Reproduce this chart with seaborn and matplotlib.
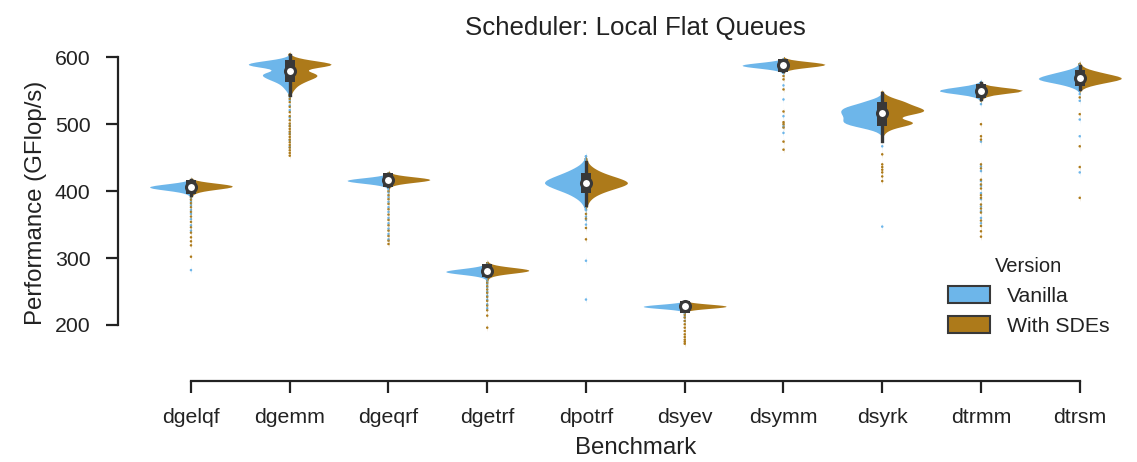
import numpy as np
import pandas as pd
import matplotlib
matplotlib.use("Agg")
import matplotlib.pyplot as plt
from matplotlib.patches import Patch
from matplotlib import cbook
import seaborn as sns

# ---------------- data ----------------
benchmarks = ["dgelqf", "dgemm", "dgeqrf", "dgetrf", "dpotrf",
              "dsyev", "dsymm", "dsyrk", "dtrmm", "dtrsm"]
versions = ["Vanilla", "With SDEs"]
title_text = "Scheduler: Local Flat Queues"
y_ticks = [200, 300, 400, 500, 600]

# body of each distribution: GFlop/s levels and how many runs sit at each level
# plus the individual low outlier runs (the dots under each violin)
dgelqf_v_lv = [394, 397, 400, 403, 406, 409, 412, 415]
dgelqf_v_ct = [4, 10, 30, 70, 100, 75, 30, 6]
dgelqf_v_out = [388, 384, 379, 372, 366, 358, 349, 341, 282]
dgelqf_s_lv = [395, 398, 401, 404, 407, 410, 413, 416]
dgelqf_s_ct = [4, 10, 28, 68, 100, 80, 32, 6]
dgelqf_s_out = [391, 387, 382, 376, 369, 362, 354, 346, 338, 331, 325, 319, 302]

dgemm_v_lv = [544, 547, 550, 553, 556, 559, 562, 565, 568, 571, 574, 577, 580, 583, 586, 589, 592, 595, 598, 601]
dgemm_v_ct = [3, 5, 9, 13, 17, 22, 30, 42, 55, 64, 72, 62, 38, 36, 85, 115, 100, 60, 22, 6]
dgemm_v_out = [541, 536, 528, 521, 510, 498, 487, 476, 466]
dgemm_s_lv = [544, 547, 550, 553, 556, 559, 562, 565, 568, 571, 574, 577, 580, 583, 586, 589, 592, 595, 598, 601, 604]
dgemm_s_ct = [3, 5, 8, 12, 16, 22, 32, 42, 55, 68, 70, 58, 38, 38, 85, 115, 100, 58, 28, 8, 2]
dgemm_s_out = [542, 538, 533, 526, 518, 512, 506, 501, 497, 493, 489, 485, 481,
               477, 473, 469, 465, 461, 457, 453]

dgeqrf_v_lv = [407, 410, 413, 416, 419, 422, 425]
dgeqrf_v_ct = [5, 20, 65, 100, 60, 15, 3]
dgeqrf_v_out = [403, 398, 391, 384, 376, 369, 360, 352, 344, 336, 328]
dgeqrf_s_lv = [408, 411, 414, 417, 420, 423, 426]
dgeqrf_s_ct = [5, 18, 60, 100, 70, 20, 4]
dgeqrf_s_out = [405, 400, 394, 388, 381, 373, 365, 357, 349, 341, 333, 326, 321]

dgetrf_v_lv = [270, 273, 276, 279, 282, 285, 288, 291]
dgetrf_v_ct = [5, 15, 50, 100, 80, 35, 10, 3]
dgetrf_v_out = [265, 261, 256, 250, 244, 238, 231, 225]
dgetrf_s_lv = [271, 274, 277, 280, 283, 286, 289, 292]
dgetrf_s_ct = [4, 12, 45, 95, 100, 50, 15, 4]
dgetrf_s_out = [267, 263, 258, 253, 248, 242, 236, 229, 222, 214, 196]

dpotrf_v_lv = [372, 376, 380, 384, 388, 392, 396, 400, 404, 408, 412,
               416, 420, 424, 428, 432, 436, 440, 444, 448, 452]
dpotrf_v_ct = [3, 5, 8, 13, 20, 30, 42, 58, 75, 90, 100,
               95, 82, 66, 50, 36, 24, 14, 8, 4, 2]
dpotrf_v_out = [362, 357, 350, 296, 238]
dpotrf_s_lv = [376, 380, 384, 388, 392, 396, 400, 404, 408, 412,
               416, 420, 424, 428, 432, 436, 440, 444, 448]
dpotrf_s_ct = [2, 4, 7, 12, 20, 32, 48, 68, 88, 100,
               92, 75, 55, 38, 25, 15, 8, 4, 2]
dpotrf_s_out = [366, 359, 345, 328]

dsyev_v_lv = [224, 226, 228, 230, 232]
dsyev_v_ct = [10, 60, 100, 40, 5]
dsyev_v_out = [221, 217, 212, 206]
dsyev_s_lv = [224, 226, 228, 230, 232]
dsyev_s_ct = [8, 55, 100, 50, 8]
dsyev_s_out = [222, 219, 215, 211, 206, 201, 196, 191, 186, 182, 178, 175, 172]

dsymm_v_lv = [580, 583, 586, 589, 592, 595]
dsymm_v_ct = [8, 30, 85, 100, 45, 8]
dsymm_v_out = [577, 558, 537, 512, 497, 487]
dsymm_s_lv = [581, 584, 587, 590, 593, 596]
dsymm_s_ct = [6, 28, 80, 100, 55, 10]
dsymm_s_out = [572, 567, 552, 519, 503, 500, 495, 474, 462]

dsyrk_v_lv = [484, 487, 490, 493, 496, 499, 502, 505, 508, 511, 514,
              517, 520, 523, 526, 529, 532, 535, 538, 541, 544]
dsyrk_v_ct = [3, 8, 18, 35, 58, 80, 92, 95, 92, 92, 95,
              98, 100, 96, 88, 70, 52, 40, 22, 10, 4]
dsyrk_v_out = [480, 467, 347]
dsyrk_s_lv = [484, 487, 490, 493, 496, 499, 502, 505, 508, 511, 514,
              517, 520, 523, 526, 529, 532, 535, 538, 541, 544, 547]
dsyrk_s_ct = [3, 6, 12, 22, 38, 62, 76, 66, 40, 38, 58,
              85, 100, 92, 80, 66, 56, 48, 30, 18, 8, 3]
dsyrk_s_out = [483, 475, 455, 440, 436, 432, 428, 422, 415]

dtrmm_v_lv = [538, 541, 544, 547, 550, 553, 556, 559, 562]
dtrmm_v_ct = [5, 12, 30, 75, 100, 80, 45, 15, 4]
dtrmm_v_out = [530, 474, 437, 430, 415, 408, 397, 388, 377, 370, 360, 352]
dtrmm_s_lv = [539, 542, 545, 548, 551, 554, 557, 560]
dtrmm_s_ct = [4, 10, 28, 80, 100, 60, 15, 3]
dtrmm_s_out = [535, 500, 482, 477, 440, 434, 417, 410, 404, 394, 390, 380,
               374, 368, 356, 348, 340, 332]

dtrsm_v_lv = [550, 553, 556, 559, 562, 565, 568, 571, 574, 577, 580, 583, 586, 589]
dtrsm_v_ct = [4, 10, 22, 38, 60, 88, 100, 90, 72, 55, 35, 18, 8, 3]
dtrsm_v_out = [545, 535, 507, 482, 428]
dtrsm_s_lv = [551, 554, 557, 560, 563, 566, 569, 572, 575, 578, 581, 584, 587, 590]
dtrsm_s_ct = [3, 8, 20, 40, 62, 88, 100, 85, 62, 45, 25, 12, 5, 2]
dtrsm_s_out = [540, 515, 467, 436, 390]

groups = {
    ("dgelqf", "Vanilla"): (dgelqf_v_lv, dgelqf_v_ct, dgelqf_v_out),
    ("dgelqf", "With SDEs"): (dgelqf_s_lv, dgelqf_s_ct, dgelqf_s_out),
    ("dgemm", "Vanilla"): (dgemm_v_lv, dgemm_v_ct, dgemm_v_out),
    ("dgemm", "With SDEs"): (dgemm_s_lv, dgemm_s_ct, dgemm_s_out),
    ("dgeqrf", "Vanilla"): (dgeqrf_v_lv, dgeqrf_v_ct, dgeqrf_v_out),
    ("dgeqrf", "With SDEs"): (dgeqrf_s_lv, dgeqrf_s_ct, dgeqrf_s_out),
    ("dgetrf", "Vanilla"): (dgetrf_v_lv, dgetrf_v_ct, dgetrf_v_out),
    ("dgetrf", "With SDEs"): (dgetrf_s_lv, dgetrf_s_ct, dgetrf_s_out),
    ("dpotrf", "Vanilla"): (dpotrf_v_lv, dpotrf_v_ct, dpotrf_v_out),
    ("dpotrf", "With SDEs"): (dpotrf_s_lv, dpotrf_s_ct, dpotrf_s_out),
    ("dsyev", "Vanilla"): (dsyev_v_lv, dsyev_v_ct, dsyev_v_out),
    ("dsyev", "With SDEs"): (dsyev_s_lv, dsyev_s_ct, dsyev_s_out),
    ("dsymm", "Vanilla"): (dsymm_v_lv, dsymm_v_ct, dsymm_v_out),
    ("dsymm", "With SDEs"): (dsymm_s_lv, dsymm_s_ct, dsymm_s_out),
    ("dsyrk", "Vanilla"): (dsyrk_v_lv, dsyrk_v_ct, dsyrk_v_out),
    ("dsyrk", "With SDEs"): (dsyrk_s_lv, dsyrk_s_ct, dsyrk_s_out),
    ("dtrmm", "Vanilla"): (dtrmm_v_lv, dtrmm_v_ct, dtrmm_v_out),
    ("dtrmm", "With SDEs"): (dtrmm_s_lv, dtrmm_s_ct, dtrmm_s_out),
    ("dtrsm", "Vanilla"): (dtrsm_v_lv, dtrsm_v_ct, dtrsm_v_out),
    ("dtrsm", "With SDEs"): (dtrsm_s_lv, dtrsm_s_ct, dtrsm_s_out),
}

frames = []
for (bench, ver), (lv, ct, out) in groups.items():
    vals = np.concatenate([np.repeat(lv, ct), out]).astype(float)
    frames.append(pd.DataFrame({"Benchmark": bench, "Version": ver, "Performance": vals}))
df = pd.concat(frames, ignore_index=True)

# ---------------- style ----------------
BLUE = "#6DB6EA"
GOLD = "#AD7A1A"
GRAY = "#383838"
TEXT = "#222222"

sns.set_theme(style="ticks")
plt.rcParams["font.family"] = ["Liberation Sans", "DejaVu Sans"]
plt.rcParams["text.color"] = TEXT
plt.rcParams["axes.labelcolor"] = TEXT
plt.rcParams["xtick.color"] = TEXT
plt.rcParams["ytick.color"] = TEXT
plt.rcParams["axes.edgecolor"] = TEXT

fig = plt.figure(figsize=(11.37, 4.62), dpi=100)
ax = fig.add_axes([0.12454, 0.23139, 0.86851, 0.65909])

BW = 2.6


def fixed_bw(kde):
    return BW / np.std(kde.dataset, ddof=1)


def whisker_range(v):
    s = cbook.boxplot_stats(np.asarray(v, dtype=float))[0]
    return s["whislo"], s["whishi"]


common = dict(data=df, x="Benchmark", y="Performance", order=benchmarks, ax=ax)

# all runs as tiny dots on the centre line
sns.stripplot(**common, hue="Version", hue_order=versions, palette=[BLUE, GOLD],
              jitter=False, dodge=False, size=1.8, linewidth=0, legend=False, zorder=0.5)

# split violins
sns.violinplot(**common, hue="Version", hue_order=versions, palette=[BLUE, GOLD],
               split=True, inner=None, density_norm="width", width=0.84, linewidth=0,
               saturation=1, bw_method=fixed_bw, cut=2, gap=0, legend=False)

# inner box: whiskers, IQR bar, white median dot
sns.pointplot(**common, estimator="median", errorbar=whisker_range, color=GRAY,
              marker="", linestyle="none",
              err_kws=dict(linewidth=2.4, solid_capstyle="projecting", zorder=3))
sns.pointplot(**common, estimator="median", errorbar=("pi", 50), color=GRAY,
              marker="", linestyle="none",
              err_kws=dict(linewidth=7.2, solid_capstyle="projecting", zorder=3))
sns.pointplot(**common, estimator="median", errorbar=None, color="white",
              marker="o", linestyle="none", markersize=7.2, markeredgewidth=2.2,
              markeredgecolor=GRAY, zorder=4)

# ---------------- axes ----------------
ax.set_xlim(-0.5, len(benchmarks) - 0.5)
ax.set_ylim(155, 610)
ax.set_yticks(y_ticks)
ax.set_title(title_text, fontsize=18.6, pad=11.5)
ax.set_xlabel("Benchmark", fontsize=17.3, labelpad=7.5)
ax.set_ylabel("Performance (GFlop/s)", fontsize=17.3, labelpad=6)

for side in ["top", "right"]:
    ax.spines[side].set_visible(False)
ax.spines["left"].set_position(("outward", 16.8))
ax.spines["bottom"].set_position(("outward", 18.4))
ax.spines["left"].set_bounds(y_ticks[0], y_ticks[-1])
ax.spines["bottom"].set_bounds(0, len(benchmarks) - 1)
for side in ["left", "bottom"]:
    ax.spines[side].set_linewidth(1.6)
ax.tick_params(axis="both", labelsize=15.3, length=8.5, width=1.6, direction="out")
ax.tick_params(axis="x", pad=11)
ax.tick_params(axis="y", pad=11.5)

handles = [Patch(facecolor=BLUE, edgecolor=GRAY, linewidth=1.5),
           Patch(facecolor=GOLD, edgecolor=GRAY, linewidth=1.5)]
leg = ax.legend(handles, versions, title="Version", loc="lower right", frameon=False,
                fontsize=15.3, title_fontsize=14.5, handleheight=0.8)

fig.savefig("out.png", dpi=100)
